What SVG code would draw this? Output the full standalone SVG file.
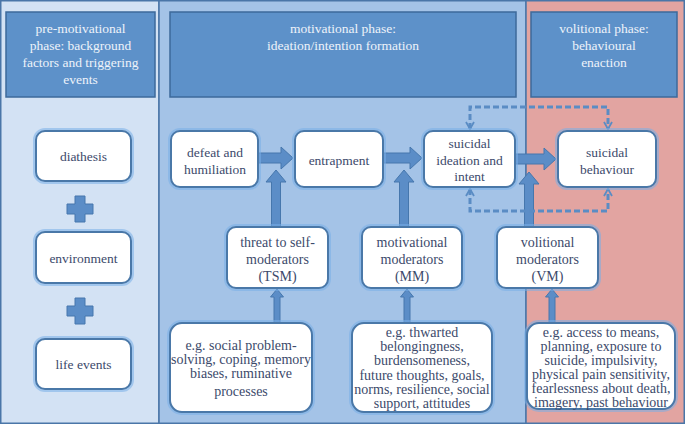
<svg xmlns="http://www.w3.org/2000/svg" width="685" height="425" viewBox="0 0 685 425">
<defs>
<marker id="chev" viewBox="0 0 10 10" refX="8" refY="5" markerWidth="10" markerHeight="10" markerUnits="userSpaceOnUse" orient="auto-start-reverse"><path d="M1,1 L8,5 L1,9" fill="none" stroke="#5a8cc4" stroke-width="1.8"/></marker>
</defs>

<g id="panels" stroke="#4a76a8" stroke-width="1.5">
<rect x="0.75" y="0.75" width="158.25" height="422.5" fill="#d3e2f4"/>
<rect x="159" y="0.75" width="367" height="422.5" fill="#a4c3e7"/>
<rect x="526" y="0.75" width="158.25" height="422.5" fill="#e2a4a1"/>
</g>

<g id="headers" font-family="Liberation Serif" font-size="13.5" text-anchor="middle">
<g id="header-pre">
<rect x="6" y="12" width="149" height="85" fill="#5d91c9" stroke="#3d6a9b" stroke-width="1.5"/>
<g fill="#eef3fa">
<text x="80.5" y="32.5">pre-motivational</text>
<text x="80.5" y="49.5">phase: background</text>
<text x="80.5" y="66.5">factors and triggering</text>
<text x="80.5" y="83.5">events</text>
</g>
</g>
<g id="header-motivational">
<rect x="170" y="12" width="346" height="85" fill="#5d91c9" stroke="#3d6a9b" stroke-width="1.5"/>
<g fill="#eef3fa">
<text x="343" y="33">motivational phase:</text>
<text x="343" y="50">ideation/intention formation</text>
</g>
</g>
<g id="header-volitional">
<rect x="531" y="12" width="146" height="85" fill="#5d91c9" stroke="#3d6a9b" stroke-width="1.5"/>
<g fill="#eef3fa">
<text x="604" y="33">volitional phase:</text>
<text x="604" y="50">behavioural</text>
<text x="604" y="67">enaction</text>
</g>
</g>
</g>

<g id="connectors">
<g fill="#5b8dc7" stroke="#4677ad" stroke-width="1">
<path d="M75,196 H85 V204 H93 V214 H85 V222 H75 V214 H67 V204 H75 Z"/>
<path d="M75,298 H85 V306 H93 V316 H85 V324 H75 V316 H67 V306 H75 Z"/>
<path d="M271.5,227 V182 H266 L276,170 L286,182 H280.5 V227 Z"/>
<path d="M399.5,227 V182 H394 L404,170 L414,182 H408.5 V227 Z"/>
<path d="M524.5,227 V184 H519 L529,172 L539,184 H533.5 V227 Z"/>
<path d="M258,153 H281 V147 L293,158 L281,169 V163 H258 Z"/>
<path d="M383,153 H410 V147 L422,158 L410,169 V163 H383 Z"/>
<path d="M515,154 H544 V148 L556,159 L544,170 V164 H515 Z"/>
<path d="M274,323 V297 H270.5 L277,289 L283.5,297 H280 V323 Z"/>
<path d="M404,323 V297 H400.5 L407,289 L413.5,297 H410 V323 Z"/>
<path d="M549,323 V297 H545.5 L552,289 L558.5,297 H555 V323 Z"/>
</g>
<g fill="none" stroke="#5a8cc4" stroke-width="3" stroke-dasharray="6 3" marker-start="url(#chev)" marker-end="url(#chev)">
<path d="M470,129 V107 H608 V129"/>
<path d="M470,189 V211 H608 V189"/>
</g>
</g>

<g id="nodes" font-family="Liberation Serif" text-anchor="middle">
<g id="glows" fill="none" stroke="#78aee8" stroke-width="6" stroke-opacity="0.55">
<rect x="36" y="131" width="95" height="50" rx="9"/>
<rect x="36" y="232" width="95" height="51" rx="9"/>
<rect x="36" y="339" width="95" height="50" rx="9"/>
<rect x="171" y="131" width="87" height="56" rx="9"/>
<rect x="295" y="131" width="88" height="56" rx="9"/>
<rect x="424" y="131" width="91" height="56" rx="9"/>
<rect x="558" y="131" width="98" height="56" rx="9"/>
<rect x="227" y="227" width="101" height="61" rx="9"/>
<rect x="362" y="227" width="100" height="61" rx="9"/>
<rect x="497" y="227" width="101" height="61" rx="9"/>
<rect x="170" y="323" width="142" height="89" rx="12"/>
<rect x="352" y="323" width="140" height="89" rx="12"/>
<rect x="527" y="323" width="148" height="86" rx="12"/>
</g>

<g font-size="13.5">
<g id="diathesis">
<rect x="36" y="131" width="95" height="50" rx="9" fill="#ffffff" stroke="#4a78a8" stroke-width="2"/>
<text x="83.5" y="161" fill="#3c4a6b">diathesis</text>
</g>
<g id="environment">
<rect x="36" y="232" width="95" height="51" rx="9" fill="#ffffff" stroke="#4a78a8" stroke-width="2"/>
<text x="83.5" y="263" fill="#3c4a6b">environment</text>
</g>
<g id="life-events">
<rect x="36" y="339" width="95" height="50" rx="9" fill="#ffffff" stroke="#4a78a8" stroke-width="2"/>
<text x="83.5" y="369" fill="#3c4a6b">life events</text>
</g>
<g id="defeat">
<rect x="171" y="131" width="87" height="56" rx="9" fill="#ffffff" stroke="#4a78a8" stroke-width="2"/>
<text x="215" y="157" fill="#3c4a6b">defeat and</text>
<text x="215" y="174" fill="#3c4a6b">humiliation</text>
</g>
<g id="entrapment">
<rect x="295" y="131" width="88" height="56" rx="9" fill="#ffffff" stroke="#4a78a8" stroke-width="2"/>
<text x="339" y="165" fill="#3c4a6b">entrapment</text>
</g>
<g id="ideation">
<rect x="424" y="131" width="91" height="56" rx="9" fill="#ffffff" stroke="#4a78a8" stroke-width="2"/>
<text x="469.5" y="148" fill="#3c4a6b">suicidal</text>
<text x="469.5" y="164.5" fill="#3c4a6b">ideation and</text>
<text x="469.5" y="181" fill="#3c4a6b">intent</text>
</g>
<g id="behaviour">
<rect x="558" y="131" width="98" height="56" rx="9" fill="#ffffff" stroke="#4a78a8" stroke-width="2"/>
<text x="607" y="157" fill="#3c4a6b">suicidal</text>
<text x="607" y="174" fill="#3c4a6b">behaviour</text>
</g>
</g>

<g font-size="14">
<g id="tsm">
<rect x="227" y="227" width="101" height="61" rx="9" fill="#ffffff" stroke="#4a78a8" stroke-width="2"/>
<text x="277.5" y="247" fill="#3c4a6b">threat to self-</text>
<text x="277.5" y="264" fill="#3c4a6b">moderators</text>
<text x="277.5" y="281" fill="#3c4a6b">(TSM)</text>
</g>
<g id="mm">
<rect x="362" y="227" width="100" height="61" rx="9" fill="#ffffff" stroke="#4a78a8" stroke-width="2"/>
<text x="412" y="247" fill="#3c4a6b">motivational</text>
<text x="412" y="264" fill="#3c4a6b">moderators</text>
<text x="412" y="281" fill="#3c4a6b">(MM)</text>
</g>
<g id="vm">
<rect x="497" y="227" width="101" height="61" rx="9" fill="#ffffff" stroke="#4a78a8" stroke-width="2"/>
<text x="547.5" y="247" fill="#3c4a6b">volitional</text>
<text x="547.5" y="264" fill="#3c4a6b">moderators</text>
<text x="547.5" y="281" fill="#3c4a6b">(VM)</text>
</g>
<g id="tsm-examples">
<rect x="170" y="323" width="142" height="89" rx="12" fill="#ffffff" stroke="#4a78a8" stroke-width="2"/>
<text x="241" y="350" fill="#3c4a6b">e.g. social problem-</text>
<text x="241" y="364" fill="#3c4a6b">solving, coping, memory</text>
<text x="241" y="378" fill="#3c4a6b">biases, ruminative</text>
<text x="241" y="396" fill="#3c4a6b">processes</text>
</g>
<g id="mm-examples">
<rect x="352" y="323" width="140" height="89" rx="12" fill="#ffffff" stroke="#4a78a8" stroke-width="2"/>
<text x="422" y="337" fill="#3c4a6b">e.g. thwarted</text>
<text x="422" y="351.2" fill="#3c4a6b">belongingness,</text>
<text x="422" y="365.4" fill="#3c4a6b">burdensomeness,</text>
<text x="422" y="379.6" fill="#3c4a6b">future thoughts, goals,</text>
<text x="422" y="393.8" fill="#3c4a6b">norms, resilience, social</text>
<text x="422" y="408" fill="#3c4a6b">support, attitudes</text>
</g>
<g id="vm-examples">
<rect x="527" y="323" width="148" height="86" rx="12" fill="#ffffff" stroke="#4a78a8" stroke-width="2"/>
<text x="601" y="337" fill="#3c4a6b">e.g. access to means,</text>
<text x="601" y="351" fill="#3c4a6b">planning, exposure to</text>
<text x="601" y="365" fill="#3c4a6b">suicide, impulsivity,</text>
<text x="601" y="379" fill="#3c4a6b">physical pain sensitivity,</text>
<text x="601" y="393" fill="#3c4a6b">fearlessness about death,</text>
<text x="601" y="407" fill="#3c4a6b">imagery, past behaviour</text>
</g>
</g>
</g>
</svg>
